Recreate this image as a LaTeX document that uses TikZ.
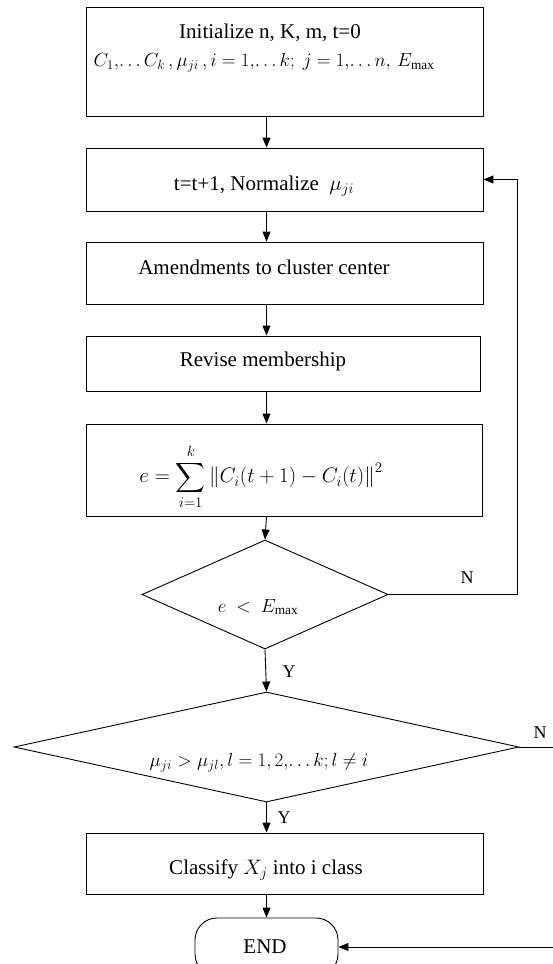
\RequirePackage{fix-cm}
\documentclass[tikz,border=0pt]{standalone}
\usepackage{amsmath}
\usepackage{fontspec}
\setmainfont{Liberation Serif}
\usetikzlibrary{arrows.meta,shapes.geometric}
\begin{document}
\begin{tikzpicture}[x=1pt,y=-1pt,
  every node/.style={font=\fontsize{21}{25}\selectfont, inner sep=0pt},
  box/.style={draw, rectangle, line width=0.9pt},
  dia/.style={draw, diamond, line width=0.9pt},
  term/.style={draw, rectangle, rounded corners=22pt, line width=0.9pt},
  txt/.style={anchor=center},
  mtxt/.style={anchor=center, font=\fontsize{19}{23}\selectfont},
  lbl/.style={font=\fontsize{18}{21}\selectfont},
  arr/.style={line width=0.9pt, -{Triangle[length=10pt,width=8pt]}}
]
\useasboundingbox (0,0) rectangle (553,964);
% boxes
\node[box, minimum width=397pt, minimum height=109pt] (b1) at (284.5,61.5) {};
\node[box, minimum width=397pt, minimum height=63pt] (b2) at (284.5,179.5) {};
\node[box, minimum width=397pt, minimum height=62pt] (b3) at (284.5,273) {};
\node[box, minimum width=394pt, minimum height=55pt] (b4) at (283,363.5) {};
\node[box, minimum width=396pt, minimum height=92pt] (b5) at (284,470) {};
\node[dia, minimum width=246pt, minimum height=109pt] (d1) at (265,594.5) {};
\node[dia, minimum width=505pt, minimum height=110pt] (d2) at (266.5,747) {};
\node[box, minimum width=397pt, minimum height=61pt] (b6) at (284.5,863.5) {};
\node[term, minimum width=143pt, minimum height=58pt] (end) at (266.5,947) {};
% texts
\node[txt] (t1a) at (270,33) {Initialize n, K, m, t=0};
\node[mtxt] (t1b) at (264,63) {$C_1,\!\ldots C_k\,,\mu_{ji}\,,i=1,\!\ldots k;\ j=1,\!\ldots n,\,E_{\max}$};
\node[txt] (t2) at (264,186) {t=t+1, Normalize \ $\mu_{ji}$};
\node[txt] (t3) at (264,267) {Amendments to cluster center};
\node[txt] (t5) at (261,477) {$e=\displaystyle\sum_{i=1}^{k}\left\|C_i(t+1)-C_i(t)\right\|^2$};
\node[txt] (t4) at (263,361) {Revise membership};
\node[mtxt] (t6) at (258,607) {$e\ <\ E_{\max}$};
\node[mtxt] (t7) at (259,763) {$\mu_{ji}>\mu_{jl},l=1,2,\!\ldots k;l\neq i$};
\node[txt] (t8) at (266,870) {Classify $X_j$ into i class};
\node[txt] (t9) at (265,947) {END};
% labels
\node[lbl] (n1) at (467,578) {N};
\node[lbl] (y1) at (289,672) {Y};
\node[lbl] (n2) at (540,733) {N};
\node[lbl] (y2) at (284,818) {Y};
% axis for vertical connectors
\coordinate (ax) at (266.5,0);
\coordinate (loop1) at (517,0);
\coordinate (loop2) at (558,0);
\draw[arr] (b1.south -| ax) -- (b2.north -| ax);
\draw[arr] (b2.south -| ax) -- (b3.north -| ax);
\draw[arr] (b3.south -| ax) -- (b4.north -| ax);
\draw[arr] (b4.south -| ax) -- (b5.north -| ax);
\draw[arr] (b5.south -| ax) -- (d1.north);
\draw[arr] (d1.south) -- (d2.north);
\draw[arr] (d2.south) -- (b6.north -| ax);
\draw[arr] (b6.south -| ax) -- (end.north);
\draw[arr] (d1.east) -- (d1.east -| loop1) -- (b2.east -| loop1) -- (b2.east);
\draw[arr] (d2.east) -- (d2.east -| loop2) -- (end.east -| loop2) -- (end.east);
\end{tikzpicture}
\end{document}
